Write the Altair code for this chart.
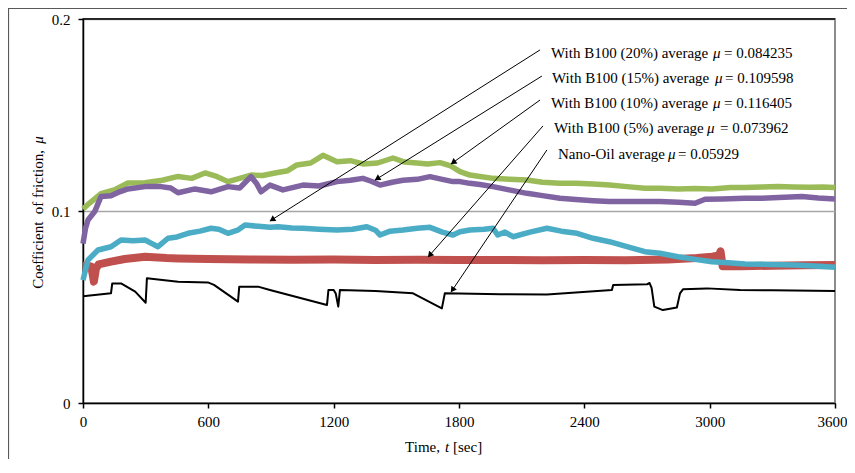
import math
import altair as alt
import pandas as pd

# ---------------- data ----------------
b10_t = [0, 30, 86, 150, 215, 297, 380, 455, 520, 584, 640, 694, 750, 804, 860, 919, 980, 1024,
         1090, 1149, 1216, 1280, 1340, 1410, 1484, 1540, 1599, 1650, 1709, 1760, 1805, 1852, 1900,
         1963, 2040, 2125, 2200, 2283, 2360, 2442, 2520, 2604, 2690, 2762, 2850, 2930, 3011, 3100,
         3169, 3250, 3327, 3400, 3480, 3540, 3600]
b10_mu = [0.101, 0.104, 0.109, 0.111, 0.1146, 0.1147, 0.116, 0.118, 0.117, 0.1198, 0.118, 0.1153,
          0.117, 0.1187, 0.1185, 0.1198, 0.121, 0.124, 0.125, 0.129, 0.1257, 0.1262, 0.1245, 0.125,
          0.1276, 0.1255, 0.125, 0.1245, 0.1252, 0.1235, 0.1205, 0.1187, 0.118, 0.117, 0.1165,
          0.1161, 0.115, 0.1144, 0.1145, 0.114, 0.1135, 0.1127, 0.1118, 0.1118, 0.1115, 0.1117,
          0.1115, 0.1122, 0.1122, 0.1125, 0.1127, 0.1125, 0.1124, 0.1125, 0.1122]

b15_t = [0, 12, 24, 56, 86, 134, 175, 215, 297, 373, 420, 455, 536, 613, 694, 750, 804, 830, 852,
         895, 957, 1053, 1130, 1216, 1280, 1340, 1380, 1422, 1480, 1532, 1600, 1661, 1720, 1771,
         1805, 1852, 1900, 1963, 2040, 2125, 2200, 2283, 2360, 2442, 2520, 2604, 2690, 2762, 2850,
         2930, 2978, 3060, 3169, 3250, 3330, 3442, 3520, 3600]
b15_mu = [0.083, 0.091, 0.0953, 0.0997, 0.1075, 0.108, 0.110, 0.1115, 0.1127, 0.1127, 0.112,
          0.1095, 0.1115, 0.110, 0.1127, 0.112, 0.1179, 0.1145, 0.110, 0.1135, 0.111, 0.1135,
          0.113, 0.1153, 0.116, 0.117, 0.1155, 0.1135, 0.115, 0.116, 0.1165, 0.1179, 0.1165,
          0.1153, 0.1153, 0.1144, 0.1138, 0.1127, 0.111, 0.1092, 0.108, 0.1066, 0.106, 0.1054,
          0.105, 0.1049, 0.1049, 0.1049, 0.1045, 0.104, 0.1061, 0.1063, 0.1066, 0.1066, 0.107,
          0.1075, 0.1068, 0.1063]

b20_t = [0, 24, 72, 134, 182, 240, 297, 330, 359, 407, 450, 503, 560, 613, 650, 694, 740, 776,
         840, 895, 934, 1000, 1053, 1130, 1216, 1290, 1359, 1400, 1422, 1470, 1532, 1600, 1661,
         1720, 1771, 1805, 1852, 1920, 1963, 1985, 2020, 2059, 2140, 2221, 2290, 2365, 2442, 2520,
         2604, 2690, 2762, 2848, 2930, 3011, 3090, 3169, 3290, 3408, 3500, 3600]
b20_mu = [0.064, 0.0745, 0.0797, 0.0814, 0.0849, 0.0845, 0.0849, 0.083, 0.0814, 0.0858, 0.0865,
          0.0884, 0.0895, 0.091, 0.0905, 0.0884, 0.090, 0.0927, 0.092, 0.0915, 0.0918, 0.0912,
          0.091, 0.0905, 0.0901, 0.0905, 0.0918, 0.090, 0.0875, 0.0895, 0.0901, 0.091, 0.0915,
          0.089, 0.0875, 0.0892, 0.0901, 0.0905, 0.091, 0.0875, 0.089, 0.0866, 0.089, 0.091,
          0.0895, 0.0884, 0.0858, 0.084, 0.0814, 0.0788, 0.078, 0.0762, 0.0748, 0.0736, 0.073,
          0.0724, 0.0722, 0.0719, 0.0713, 0.0707]

b5_t = [0, 20, 40, 52, 62, 75, 134, 200, 297, 400, 455, 600, 800, 1000, 1200, 1400, 1600, 1800,
        2000, 2200, 2400, 2600, 2800, 2938, 3011, 3045, 3052, 3062, 3150, 3300, 3450, 3600]
b5_mu = [0.0715, 0.0715, 0.071, 0.0632, 0.070, 0.0722, 0.0736, 0.075, 0.0762, 0.0755, 0.0753,
         0.075, 0.0748, 0.0746, 0.0747, 0.0745, 0.0746, 0.0745, 0.0745, 0.0744, 0.0745, 0.0744,
         0.0748, 0.0755, 0.0762, 0.0768, 0.079, 0.0712, 0.0712, 0.0715, 0.0717, 0.0719]

nano_t = [0, 134, 140, 182, 250, 300, 306, 455, 598, 627, 742, 748, 838, 895, 1168, 1175, 1200,
          1210, 1222, 1230, 1400, 1580, 1718, 1732, 1800, 2000, 2221, 2532, 2538, 2700, 2712,
          2722, 2735, 2776, 2843, 2858, 2872, 2987, 3145, 3300, 3600]
nano_mu = [0.0556, 0.0571, 0.0623, 0.0623, 0.058, 0.0522, 0.065, 0.0632, 0.0628, 0.0615, 0.0528,
           0.0606, 0.0606, 0.0589, 0.051, 0.0589, 0.0589, 0.057, 0.0502, 0.0589, 0.0583, 0.0571,
           0.0493, 0.0571, 0.057, 0.0566, 0.0565, 0.0589, 0.0615, 0.0618, 0.0625, 0.060, 0.0502,
           0.0484, 0.0497, 0.0571, 0.0592, 0.0597, 0.0589, 0.0587, 0.0583]

x_ticks = [0, 600, 1200, 1800, 2400, 3000, 3600]
y_ticks = [0, 0.1, 0.2]

# annotation arrows: text side (start) -> curve (tip), in data units
arr_t0 = [2188, 2197, 2188, 2202, 2221]
arr_mu0 = [0.1839, 0.1703, 0.1578, 0.1443, 0.1318]
arr_t1 = [895, 1398, 1762, 1652, 1762]
arr_mu1 = [0.0948, 0.1161, 0.1245, 0.0760, 0.0578]

lab_pre = ["With B100 (20%) average", "With B100 (15%) average", "With B100 (10%) average",
           "With B100 (5%) average", "Nano-Oil average"]
lab_post = ["= 0.084235", "= 0.109598", "= 0.116405", "= 0.073962", "= 0.05929"]

# ---------------- layout ----------------
W, H = 752, 384
FONT = "Liberation Serif"
FS = 15

# label piece positions (pixels, relative to plot origin)
lab_x1 = [468, 469, 468, 471, 475]
lab_xmu = [630, 632, 630, 624, 585]
lab_x3 = [641, 642, 641, 637, 595]
lab_y = [34, 59, 84, 109, 135]

xs = alt.Scale(domain=[0, 3600], nice=False)
ys = alt.Scale(domain=[0, 0.2], nice=False)

def series(t, mu, color, width):
    df = pd.DataFrame({"t": t, "mu": mu})
    return alt.Chart(df).mark_line(color=color, strokeWidth=width, strokeJoin="round").encode(
        x=alt.X("t:Q", scale=xs,
                axis=alt.Axis(values=x_ticks, title=None, grid=False, tickSize=5, format="d",
                              labelPadding=6, labelFlush=False,
                              labelOffset={"condition": {"test": "datum.value == 3600",
                                                         "value": -3}, "value": 0})),
        y=alt.Y("mu:Q", scale=ys,
                axis=alt.Axis(values=y_ticks, title=None, grid=True, gridColor="#A6A6A6",
                              gridWidth=1.5, tickSize=5, labelPadding=8,
                              labelExpr="datum.value == 0 ? '0' : format(datum.value, '.1f')")),
    )

lines = [
    series(nano_t, nano_mu, "black", 2),
    series(b10_t, b10_mu, "#9BBB59", 5.5),
    series(b15_t, b15_mu, "#8064A2", 5.5),
    series(b5_t, b5_mu, "#C0504D", 8),
    series(b20_t, b20_mu, "#4BACC6", 5.5),
]

top_rule = alt.Chart(pd.DataFrame({"a": [0]})).mark_rule(color="black", strokeWidth=1.5).encode(
    x=alt.datum(0, scale=xs), x2=alt.datum(3600), y=alt.datum(0.2, scale=ys))

arr_df = pd.DataFrame({"t0": arr_t0, "m0": arr_mu0, "t1": arr_t1, "m1": arr_mu1})
arrows = alt.Chart(arr_df).mark_rule(color="black", strokeWidth=1).encode(
    x=alt.X("t0:Q", scale=xs), y=alt.Y("m0:Q", scale=ys), x2="t1:Q", y2="m1:Q")

# arrowhead orientation from pixel-space direction
heads_t, heads_m, heads_a = [], [], []
for a, b, c, d in zip(arr_t0, arr_mu0, arr_t1, arr_mu1):
    dx = (c - a) * W / 3600.0
    dy = -(d - b) * H / 0.2
    L = math.hypot(dx, dy)
    ang = math.degrees(math.atan2(dx, -dy)) % 360
    back = 3.5
    heads_t.append(c - dx / L * back * 3600.0 / W)
    heads_m.append(d + dy / L * back * 0.2 / H)
    heads_a.append(ang)
head_df = pd.DataFrame({"t": heads_t, "m": heads_m, "ang": heads_a})
heads = alt.Chart(head_df).mark_point(shape="triangle", filled=True, color="black", size=45,
                                      opacity=1).encode(
    x=alt.X("t:Q", scale=xs), y=alt.Y("m:Q", scale=ys),
    angle=alt.Angle("ang:Q", scale=None))

lab_df = pd.DataFrame({"pre": lab_pre, "post": lab_post, "x1": lab_x1, "xmu": lab_xmu,
                       "x3": lab_x3, "y": lab_y})
lab_base = alt.Chart(lab_df)
lab1 = lab_base.mark_text(align="left", baseline="middle").encode(
    x=alt.X("x1:Q", scale=None), y=alt.Y("y:Q", scale=None), text="pre:N")
lab2 = lab_base.mark_text(align="left", baseline="middle", fontStyle="italic", text="μ").encode(
    x=alt.X("xmu:Q", scale=None), y=alt.Y("y:Q", scale=None))
lab3 = lab_base.mark_text(align="left", baseline="middle").encode(
    x=alt.X("x3:Q", scale=None), y=alt.Y("y:Q", scale=None), text="post:N")

one = pd.DataFrame({"a": [0]})
xt1 = alt.Chart(one).mark_text(align="right", baseline="middle", text="Time,").encode(
    x=alt.value(357), y=alt.value(428))
xt2 = alt.Chart(one).mark_text(align="center", baseline="middle", fontStyle="italic",
                               text="t").encode(
    x=alt.value(364), y=alt.value(428))
xt3 = alt.Chart(one).mark_text(align="left", baseline="middle", text="[sec]").encode(
    x=alt.value(370), y=alt.value(428))

yt1 = alt.Chart(one).mark_text(align="right", baseline="middle", angle=270,
                               text="Coefficient\u00a0\u00a0of friction,").encode(
    x=alt.value(-45), y=alt.value(131))
yt2 = alt.Chart(one).mark_text(align="center", baseline="middle", angle=270,
                               fontStyle="italic", text="μ").encode(
    x=alt.value(-45), y=alt.value(121))

frame = alt.Chart(one).mark_rect(fill="transparent", stroke="#595959", strokeWidth=1.2).encode(
    x=alt.value(-74.5), x2=alt.value(800), y=alt.value(-10.5), y2=alt.value(443))

chart = alt.layer(
    frame, *lines, top_rule, arrows, heads, lab1, lab2, lab3, xt1, xt2, xt3, yt1, yt2
).properties(
    width=W, height=H,
    background="white",
    autosize=alt.AutoSizeParams(type="none"),
    padding={"left": 75, "top": 11, "right": 12, "bottom": 56},
).configure_view(
    stroke="#8C8C8C", strokeWidth=2
).configure_axis(
    labelFont=FONT, labelFontSize=FS, labelColor="black", domainColor="black",
    tickColor="black", domainWidth=1.5, tickWidth=1.5
).configure_text(
    font=FONT, fontSize=FS, color="black"
)

chart.save("out.html", embed_options={"renderer": "svg", "actions": False})
